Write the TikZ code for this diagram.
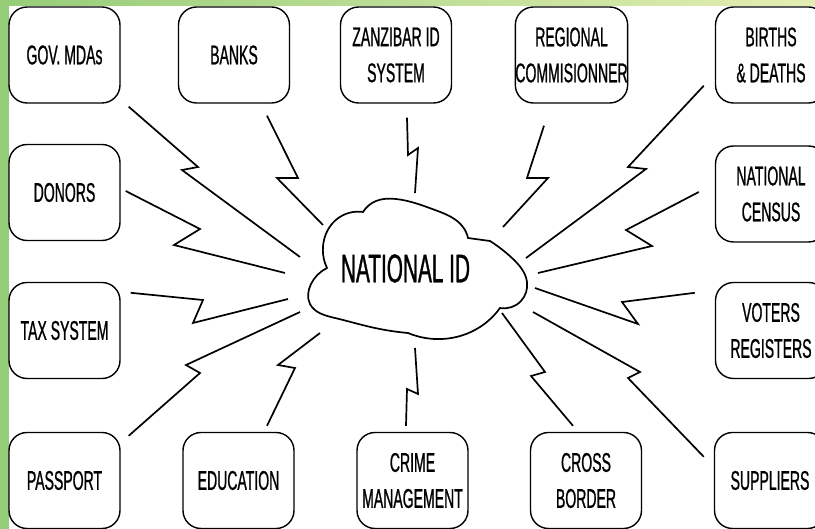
\documentclass[tikz,border=0pt]{standalone}
\usepackage{fontspec}
\setmainfont{Liberation Sans}[FakeStretch=0.52, FakeBold=0.8]
\usepackage{tikz}
\usetikzlibrary{hobby}

\definecolor{leafgreen}{RGB}{150,205,120}
\definecolor{palegreen}{RGB}{228,238,178}

\tikzset{
  box/.style={draw, line width=1.4pt, rounded corners=18pt, fill=white,
    minimum width=111pt, minimum height=96pt, align=center, inner sep=0pt,
    font=\fontsize{27}{36}\selectfont},
  bolt/.style={line width=1.7pt},
  cloudline/.style={line width=1.7pt, line cap=round, use Hobby shortcut}
}

\begin{document}
\begin{tikzpicture}[x=1pt, y=-1pt]
	\useasboundingbox (0,0) rectangle (815,529);
	\shade [left color=leafgreen, right color=palegreen] (0,0) rectangle (815,529);
	\fill [white] (9,6) rectangle (815,529);
	\clip (0,0) rectangle (815,529);

	% top row
	\node [box] (gov) at (64.5,55) {GOV. MDAs};
	\node [box] (banks) at (234,55) {BANKS};
	\node [box] (zan) at (396,55) {ZANZIBAR ID\\SYSTEM};
	\node [box] (reg) at (571.5,55) {REGIONAL\\COMMISIONNER};
	\node [box] (births) at (771,55) {BIRTHS\\\& DEATHS};

	% sides
	\node [box] (donors) at (64.5,192.5) {DONORS};
	\node [box] (tax) at (64.5,330.5) {TAX SYSTEM};
	\node [box] (census) at (771,194) {NATIONAL\\CENSUS};
	\node [box] (voters) at (771,330.5) {VOTERS\\REGISTERS};

	% bottom row
	\node [box] (pass) at (64.5,480.5) {PASSPORT};
	\node [box] (edu) at (238.5,480.5) {EDUCATION};
	\node [box] (crime) at (412.5,480.5) {CRIME\\MANAGEMENT};
	\node [box] (cross) at (586,480.5) {CROSS\\BORDER};
	\node [box] (sup) at (770,480.5) {SUPPLIERS};

	% the cloud
	\draw [cloudline] (327,268) .. (311,284) .. (310,304) .. (335,318) .. (375,328) .. (408,333);
	\draw [cloudline] (408,333) .. (442,339) .. (480,327) .. (500,308);
	\draw [cloudline] (500,308) .. (521,301) .. (527,282) .. (512,258) .. (490,241);
	\draw [cloudline] (468,238) -- (490,241);
	\draw [cloudline] (363,212) .. (376,201) .. (396,199) .. (435,210) .. (463,227) .. (468,238);
	\draw [cloudline] (327,268) .. (324,240) .. (337,219) .. (363,212);
	\node [inner sep=0pt, font=\fontsize{40}{40}\selectfont] (nid) at (405.5,268.5) {NATIONAL ID};

	% ends at the cloud
	\coordinate (m1) at (300,257);
	\coordinate (m2) at (323,225);
	\coordinate (m3) at (415,193);
	\coordinate (m4) at (503,227);
	\coordinate (m5) at (526,258);
	\coordinate (m6) at (538,273);
	\coordinate (m7) at (535,288);
	\coordinate (m8) at (533,312);
	\coordinate (m9) at (502,313);
	\coordinate (m10) at (415,348);
	\coordinate (m11) at (320,333);
	\coordinate (m12) at (300,312);
	\coordinate (m13) at (288,299);
	\coordinate (m14) at (285,273);

	% bolts
	\draw [bolt] ([shift={(8,3)}]gov.south east) -- (198,167) -- (182,170) -- (m1);
	\draw [bolt] ([shift={(33,12)}]banks.south) -- (298,178) -- (277,178) -- (m2);
	\draw [bolt] ([shift={(11,14)}]zan.south) -- (408,155) -- (418,148) -- (m3);
	\draw [bolt] ([shift={(-27.5,22)}]reg.south) -- (527,178) -- (548,178) -- (m4);
	\draw [bolt] ([shift={(-11,-18)}]births.south west) -- (628,167) -- (646,169) -- (m5);
	\draw [bolt] ([shift={(-16,-2)}]census.west) -- (626,230) -- (652,246) -- (m6);
	\draw [bolt] ([shift={(-20,11)}]voters.north west) -- (622,302) -- (638,324) -- (m7);
	\draw [bolt] (m8) -- (640,372) -- (628,378) -- ([shift={(-10,25)}]sup.north west);
	\draw [bolt] (m9) -- (545,372) -- (531,376) -- ([shift={(-13,-6)}]cross.north);
	\draw [bolt] (m10) -- (418,394) -- (407,389) -- ([shift={(-6.5,-6)}]crime.north);
	\draw [bolt] (m11) -- (278,365) -- (295,368) -- ([shift={(28.5,-6)}]edu.north);
	\draw [bolt] (m12) -- (186,365) -- (200,373) -- ([shift={(8,4)}]pass.north east);
	\draw [bolt] ([shift={(10,11)}]tax.north east) -- (203,300) -- (193,323) -- (m13);
	\draw [bolt] ([shift={(5,-1.5)}]donors.east) -- (200,229) -- (174,245) -- (m14);
\end{tikzpicture}
\end{document}
